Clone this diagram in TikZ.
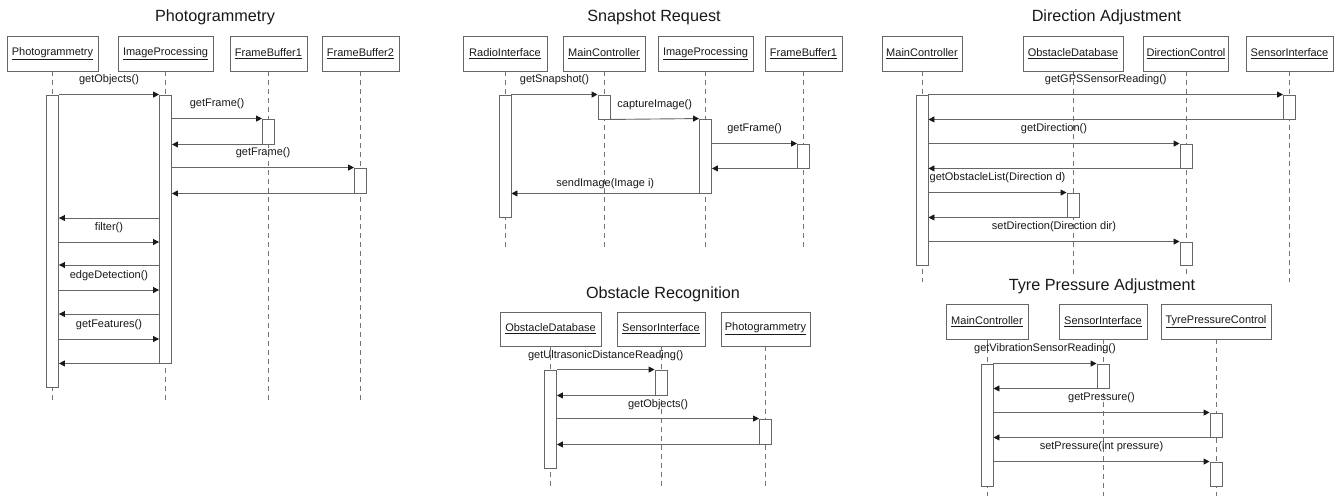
\documentclass[tikz,border=0pt]{standalone}
\usepackage{fontspec}
\setmainfont{Liberation Sans}
\usetikzlibrary{arrows.meta}
\newcommand{\lblfont}{\fontsize{11}{13}\selectfont}
\newcommand{\ttlfont}{\fontsize{16.2}{19}\selectfont}
\begin{document}
\begin{tikzpicture}[x=1pt,y=-1pt,
  obj/.style={draw=black!60, line width=0.9pt, minimum height=35pt, inner sep=0pt, font=\lblfont, text=black!90},
  actbox/.style={draw=black!60, fill=white, line width=0.9pt, minimum width=12pt, inner sep=0pt},
  life/.style={draw=black!55, line width=0.9pt, dash pattern=on 5pt off 4pt},
  msg/.style={draw=black!60, line width=0.9pt, -{Triangle[length=6pt,width=6pt,color=black!90,fill=black!90]}},
  ttl/.style={font=\ttlfont, text=black!90, inner sep=0pt},
  mlbl/.style={font=\lblfont, text=black!90, inner sep=0pt}
]
\useasboundingbox (0,0) rectangle (1342,496);
\fill[white] (0,0) rectangle (1342,496);

% ================= Photogrammetry =================
\node[ttl] (T1) at (215,17) {Photogrammetry};
\node[obj, minimum width=91pt] (p1) at (52.5,53.5) {\underline{Photogrammetry}};
\node[obj, minimum width=95pt] (p2) at (165.5,53.5) {\underline{ImageProcessing}};
\node[obj, minimum width=77pt] (p3) at (268.5,53.5) {\underline{FrameBuffer1}};
\node[obj, minimum width=77pt] (p4) at (360.5,53.5) {\underline{FrameBuffer2}};
\coordinate (pend) at (0,402);
\coordinate (pend4) at (0,404);
\foreach \n in {p1,p2,p3} \draw[life] (\n.south) -- (\n.south |- pend);
\draw[life] (p4.south) -- (p4.south |- pend4);
\node[actbox, minimum height=292pt] (p1a) at (p1 |- 0,241) {};
\node[actbox, minimum height=268pt] (p2a) at (p2 |- 0,229) {};
\node[actbox, minimum height=25pt] (p3a) at (p3 |- 0,131.5) {};
\node[actbox, minimum height=25pt] (p4a) at (p4 |- 0,180.5) {};
\draw[msg] (p1a.north east) -- node[mlbl, yshift=14.5pt] (L1) {getObjects()} (p2a.north west);
\draw[msg] (p2a.east |- p3a.north) -- node[mlbl, yshift=14.5pt] (L2) {getFrame()} (p3a.north west);
\draw[msg] (p3a.south west) -- (p2a.east |- p3a.south);
\draw[msg] (p2a.east |- p4a.north) -- node[mlbl, yshift=14.5pt] (L3) {getFrame()} (p4a.north west);
\draw[msg] (p4a.south west) -- (p2a.east |- p4a.south);
\coordinate (m1) at (0,218);
\coordinate (m2) at (0,242);
\coordinate (m3) at (0,265);
\coordinate (m4) at (0,290);
\coordinate (m5) at (0,314);
\coordinate (m6) at (0,339);
\draw[msg] (p2a.west |- m1) -- (p1a.east |- m1);
\draw[msg] (p1a.east |- m2) -- node[mlbl, yshift=14.5pt] (L4) {filter()} (p2a.west |- m2);
\draw[msg] (p2a.west |- m3) -- (p1a.east |- m3);
\draw[msg] (p1a.east |- m4) -- node[mlbl, yshift=14.5pt] (L5) {edgeDetection()} (p2a.west |- m4);
\draw[msg] (p2a.west |- m5) -- (p1a.east |- m5);
\draw[msg] (p1a.east |- m6) -- node[mlbl, yshift=14.5pt] (L6) {getFeatures()} (p2a.west |- m6);
\draw[msg] (p2a.south west) -- (p1a.east |- p2a.south);

% ================= Snapshot Request =================
\node[ttl] (T2) at (654,17) {Snapshot Request};
\node[obj, minimum width=84pt] (s1) at (505,53.5) {\underline{RadioInterface}};
\node[obj, minimum width=82pt] (s2) at (604,53.5) {\underline{MainController}};
\node[obj, minimum width=95pt] (s3) at (705.5,53.5) {\underline{ImageProcessing}};
\node[obj, minimum width=77pt] (s4) at (803.5,53.5) {\underline{FrameBuffer1}};
\coordinate (send) at (0,247);
\foreach \n in {s1,s2,s3,s4} \draw[life] (\n.south) -- (\n.south |- send);
\node[actbox, minimum height=122pt] (s1a) at (s1 |- 0,156) {};
\node[actbox, minimum height=24pt] (s2a) at (s2 |- 0,107) {};
\node[actbox, minimum height=74pt] (s3a) at (s3 |- 0,156) {};
\node[actbox, minimum height=24pt] (s4a) at (s4 |- 0,156) {};
\draw[msg] (s1a.north east) -- node[mlbl, yshift=14.5pt] (L7) {getSnapshot()} (s2a.north west);
\draw[msg] (s2a.south east) -- node[mlbl, yshift=14.5pt] (L8) {captureImage()} (s3a.north west);
\draw[msg] (s3a.east |- s4a.north) -- node[mlbl, yshift=14.5pt] (L9) {getFrame()} (s4a.north west);
\draw[msg] (s4a.south west) -- (s3a.east |- s4a.south);
\draw[msg] (s3a.south west) -- node[mlbl, yshift=9.5pt] (L10) {sendImage(Image i)} (s1a.east |- s3a.south);

% ================= Obstacle Recognition =================
\node[ttl] (T3) at (663,294) {Obstacle Recognition};
\node[obj, minimum width=101pt, minimum height=34pt] (o1) at (550.5,329) {\underline{ObstacleDatabase}};
\node[obj, minimum width=88pt, minimum height=34pt] (o2) at (661,329) {\underline{SensorInterface}};
\node[obj, minimum width=89pt, minimum height=34pt] (o3) at (765.5,329) {\underline{Photogrammetry}};
\coordinate (oend) at (0,488);
\foreach \n in {o1,o2,o3} \draw[life] (\n.south) -- (\n.south |- oend);
\node[actbox, minimum height=98pt] (o1a) at (o1 |- 0,419) {};
\node[actbox, minimum height=25pt] (o2a) at (o2 |- 0,382.5) {};
\node[actbox, minimum height=25pt] (o3a) at (o3 |- 0,431.5) {};
\draw[msg] (o1a.north east) -- node[mlbl, yshift=14pt] (L11) {getUltrasonicDistanceReading()} (o2a.north west);
\draw[msg] (o2a.south west) -- (o1a.east |- o2a.south);
\draw[msg] (o1a.east |- o3a.north) -- node[mlbl, yshift=13.5pt] (L12) {getObjects()} (o3a.north west);
\draw[msg] (o3a.south west) -- (o1a.east |- o3a.south);

% ================= Direction Adjustment =================
\node[ttl] (T4) at (1106.5,17) {Direction Adjustment};
\node[obj, minimum width=80pt] (d1) at (922,53.5) {\underline{MainController}};
\node[obj, minimum width=100pt] (d2) at (1073,53.5) {\underline{ObstacleDatabase}};
\node[obj, minimum width=85pt] (d3) at (1186,53.5) {\underline{DirectionControl}};
\node[obj, minimum width=87pt] (d4) at (1289.5,53.5) {\underline{SensorInterface}};
\coordinate (dend) at (0,282);
\foreach \n in {d1,d2,d3,d4} \draw[life] (\n.south) -- (\n.south |- dend);
\node[actbox, minimum height=170pt] (d1a) at (d1 |- 0,180) {};
\node[actbox, minimum height=24pt] (d4a) at (d4 |- 0,107) {};
\node[actbox, minimum height=24pt] (d3a) at (d3 |- 0,156) {};
\node[actbox, minimum height=24pt] (d2a) at (d2 |- 0,205) {};
\node[actbox, minimum height=23pt] (d3b) at (d3 |- 0,253.5) {};
\draw[msg] (d1a.north east) -- node[mlbl, yshift=14.5pt] (L13) {getGPSSensorReading()} (d4a.north west);
\draw[msg] (d4a.south west) -- (d1a.east |- d4a.south);
\draw[msg] (d1a.east |- d3a.north) -- node[mlbl, yshift=14.5pt] (L14) {getDirection()} (d3a.north west);
\draw[msg] (d3a.south west) -- (d1a.east |- d3a.south);
\draw[msg] (d1a.east |- d2a.north) -- node[mlbl, yshift=14.5pt] (L15) {getObstacleList(Direction d)} (d2a.north west);
\draw[msg] (d2a.south west) -- (d1a.east |- d2a.south);
\draw[msg] (d1a.east |- d3b.north) -- node[mlbl, yshift=14.5pt] (L16) {setDirection(Direction dir)} (d3b.north west);

% ================= Tyre Pressure Adjustment =================
\node[ttl, fill=white, inner sep=1pt] (T5) at (1102,286) {Tyre Pressure Adjustment};
\node[obj, minimum width=82pt] (t1) at (987,321.5) {\underline{MainController}};
\node[obj, minimum width=88pt] (t2) at (1103,321.5) {\underline{SensorInterface}};
\node[obj, minimum width=110pt] (t3) at (1216,321.5) {\underline{TyrePressureControl}};
\coordinate (tend) at (0,496);
\foreach \n in {t1,t2,t3} \draw[life] (\n.south) -- (\n.south |- tend);
\node[actbox, minimum height=122pt] (t1a) at (t1 |- 0,425) {};
\node[actbox, minimum height=24pt] (t2a) at (t2 |- 0,376) {};
\node[actbox, minimum height=24pt] (t3a) at (t3 |- 0,425) {};
\node[actbox, minimum height=24pt] (t3b) at (t3 |- 0,474) {};
\draw[msg] (t1a.north east) -- node[mlbl, yshift=14.5pt] (L17) {getVibrationSensorReading()} (t2a.north west);
\draw[msg] (t2a.south west) -- (t1a.east |- t2a.south);
\draw[msg] (t1a.east |- t3a.north) -- node[mlbl, yshift=14.5pt] (L18) {getPressure()} (t3a.north west);
\draw[msg] (t3a.south west) -- (t1a.east |- t3a.south);
\draw[msg] (t1a.east |- t3b.north) -- node[mlbl, yshift=14.5pt] (L19) {setPressure(int pressure)} (t3b.north west);
\end{tikzpicture}
\end{document}
